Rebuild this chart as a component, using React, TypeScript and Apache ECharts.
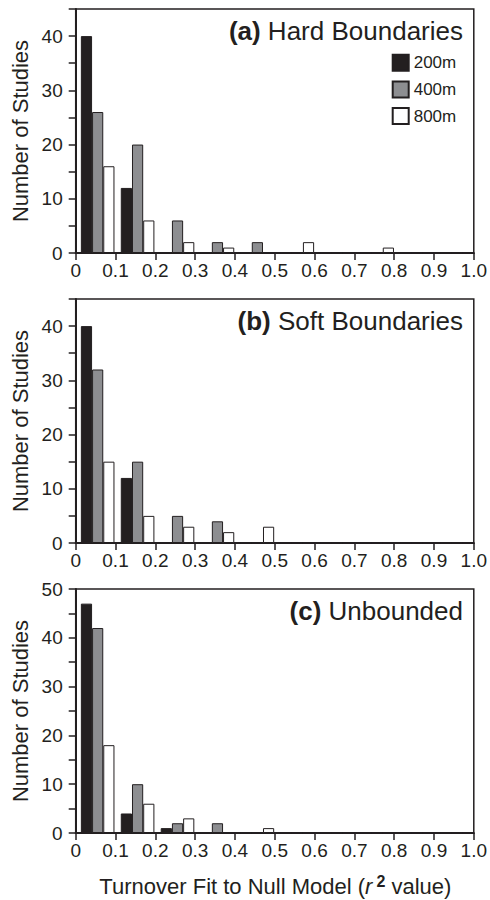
import React, { useEffect, useRef } from "react";
import * as echarts from "echarts";

const bins = ["0-0.1", "0.1-0.2", "0.2-0.3", "0.3-0.4", "0.4-0.5", "0.5-0.6", "0.6-0.7", "0.7-0.8", "0.8-0.9", "0.9-1.0"];
const seriesNames = ["200m", "400m", "800m"];

const hard200 = [40, 12, 0, 0, 0, 0, 0, 0, 0, 0];
const hard400 = [26, 20, 6, 2, 2, 0, 0, 0, 0, 0];
const hard800 = [16, 6, 2, 1, 0, 2, 0, 1, 0, 0];

const soft200 = [40, 12, 0, 0, 0, 0, 0, 0, 0, 0];
const soft400 = [32, 15, 5, 4, 0, 0, 0, 0, 0, 0];
const soft800 = [15, 5, 3, 2, 3, 0, 0, 0, 0, 0];

const unb200 = [47, 4, 1, 0, 0, 0, 0, 0, 0, 0];
const unb400 = [42, 10, 2, 2, 0, 0, 0, 0, 0, 0];
const unb800 = [18, 6, 3, 0, 1, 0, 0, 0, 0, 0];

const panelLabels = ["(a)", "(b)", "(c)"];
const panelTitles = ["Hard Boundaries", "Soft Boundaries", "Unbounded"];
const yMaxes = [45, 45, 50];
const yAxisTitle = "Number of Studies";

const TEXT = "#231f20";
const FONT = "'Liberation Sans', Arial, Helvetica, sans-serif";
const fills = ["#231f20", "#8d8e91", "#ffffff"];

const GRID_LEFT = 75.7;
const GRID_W = 399.3;
const GRID_H = 244;
const GRID_TOPS = [9, 299, 589];
const BAR_SHIFT = 2;

export default function App() {
  const ref = useRef<HTMLDivElement>(null);
  useEffect(() => {
    if (!ref.current) return;
    const chart = echarts.init(ref.current, null, { renderer: "svg" });
    const data = [
      [hard200, hard400, hard800],
      [soft200, soft400, soft800],
      [unb200, unb400, unb800],
    ];
    const grid: any[] = [];
    const xAxis: any[] = [];
    const yAxis: any[] = [];
    const series: any[] = [];
    const title: any[] = [];
    const graphic: any[] = [];
    for (let k = 0; k < 3; k++) {
      const top = GRID_TOPS[k];
      grid.push({
        left: GRID_LEFT, top, width: GRID_W, height: GRID_H,
        show: true, borderColor: TEXT, borderWidth: 1.5, backgroundColor: "transparent",
      });
      grid.push({ left: GRID_LEFT + BAR_SHIFT, top, width: GRID_W, height: GRID_H });
      xAxis.push({
        type: "value", gridIndex: 2 * k, min: 0, max: 1, interval: 0.1,
        axisLine: { show: true, lineStyle: { color: TEXT, width: 2 } },
        axisTick: { show: true, length: 7, lineStyle: { color: TEXT, width: 1.5 } },
        splitLine: { show: false },
        axisLabel: {
          fontSize: 19, color: TEXT, fontFamily: FONT, margin: 8,
          formatter: (v: number) => (v === 0 ? "0" : v.toFixed(1)),
        },
      });
      xAxis.push({ type: "category", gridIndex: 2 * k + 1, data: bins, show: false, boundaryGap: true });
      yAxis.push({
        type: "value", gridIndex: 2 * k, min: 0, max: yMaxes[k], interval: 5,
        axisLine: { show: true, lineStyle: { color: TEXT, width: 2 } },
        axisTick: { show: true, length: 7, lineStyle: { color: TEXT, width: 1.5 } },
        splitLine: { show: false },
        axisLabel: {
          fontSize: 19, color: TEXT, fontFamily: FONT, margin: 13,
          formatter: (v: number) => (v % 10 === 0 ? String(v) : ""),
        },
      });
      yAxis.push({ type: "value", gridIndex: 2 * k + 1, min: 0, max: yMaxes[k], show: false });
      for (let s = 0; s < 3; s++) {
        series.push({
          type: "bar", name: seriesNames[s], xAxisIndex: 2 * k + 1, yAxisIndex: 2 * k + 1,
          data: data[k][s], barWidth: 11.2, barGap: "0%",
          itemStyle: { color: fills[s], borderColor: TEXT, borderWidth: 1 },
          emphasis: { disabled: true },
        });
      }
      title.push({
        text: "{b|" + panelLabels[k] + "} " + panelTitles[k],
        right: 27, top: top + 9, padding: 0,
        textStyle: {
          fontSize: 26, fontWeight: "normal", color: TEXT, fontFamily: FONT,
          rich: { b: { fontSize: 26, fontWeight: "bold", color: TEXT, fontFamily: FONT } },
        },
      });
      graphic.push({
        type: "text", x: 20, y: top + GRID_H / 2, rotation: Math.PI / 2,
        style: {
          text: yAxisTitle, fontSize: 22, fill: TEXT, fontFamily: FONT,
          textAlign: "center", textVerticalAlign: "middle",
        },
      });
    }
    graphic.push({
      type: "text", x: GRID_LEFT + GRID_W / 2, y: 886,
      style: {
        text: "{n|Turnover Fit to Null Model (}{i|r}{s|2}{n| value)}",
        textAlign: "center", textVerticalAlign: "middle",
        rich: {
          n: { fontSize: 22, fill: TEXT, fontFamily: FONT, lineHeight: 26 },
          i: { fontSize: 22, fill: TEXT, fontFamily: FONT, fontStyle: "italic", lineHeight: 26 },
          s: { fontSize: 16, fill: TEXT, fontFamily: FONT, fontWeight: "bold", verticalAlign: "top", lineHeight: 26, padding: [0, 0, 0, 4] },
        },
      },
    });
    chart.setOption({
      animation: false,
      backgroundColor: "#ffffff",
      grid, xAxis, yAxis, series, title, graphic,
      legend: {
        data: seriesNames, orient: "vertical", left: 391.7, top: 53.7, padding: 0,
        itemWidth: 16, itemHeight: 16, itemGap: 8.7, icon: "rect",
        selectedMode: false,
        textStyle: { fontSize: 17, color: TEXT, fontFamily: FONT },
      },
    });
    return () => chart.dispose();
  }, []);
  return <div ref={ref} style={{ position: "fixed", left: 0, top: 0, width: 490, height: 900 }} />;
}
